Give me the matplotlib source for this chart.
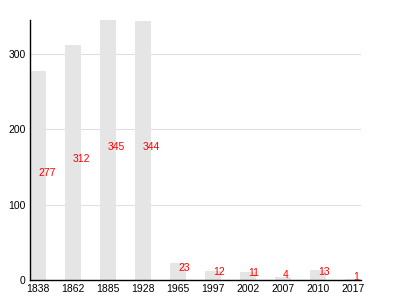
import matplotlib.pyplot as plt

years = ["1838", "1862", "1885", "1928", "1965", "1997", "2002", "2007", "2010", "2017"]
counts = [277, 312, 345, 344, 23, 12, 11, 4, 13, 1]

plt.rcParams['font.family'] = ['Liberation Sans', 'DejaVu Sans']

fig = plt.figure(figsize=(4, 3), dpi=100)
ax = fig.add_axes([30 / 400, 20 / 300, 331 / 400, 260 / 300])

width = 16 / 35
x = list(range(len(years)))
ax.bar(x, counts, width=width, color='#e5e5e5', zorder=2)

for xi, v in zip(x, counts):
    ax.text(xi, v / 2, str(v), color='red', fontsize=7.5,
            ha='left', va='baseline', zorder=3)

ax.set_xlim(-width / 2, len(years) - 1 + width / 2)
ax.set_ylim(0, max(counts))
ax.set_xticks(x)
ax.set_xticklabels(years)
ax.set_yticks([0, 100, 200, 300])
ax.tick_params(length=0, labelsize=7.5, pad=3)
ax.grid(axis='y', color='#e0e0e0', linewidth=0.8, zorder=0)
ax.set_axisbelow(True)

for side in ['top', 'right']:
    ax.spines[side].set_visible(False)
for side in ['left', 'bottom']:
    ax.spines[side].set_color('black')
    ax.spines[side].set_linewidth(1)

fig.savefig('out.png', dpi=100)
